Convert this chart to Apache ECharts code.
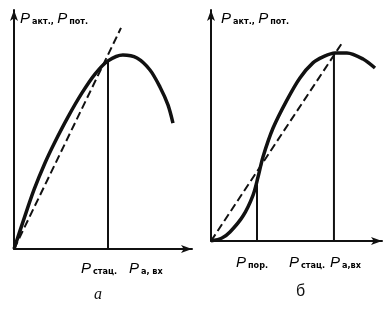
<!DOCTYPE html>
<html>
<head>
<meta charset="utf-8">
<script src="https://cdn.jsdelivr.net/npm/echarts@6/dist/echarts.min.js"></script>
<style>
  html, body { margin: 0; padding: 0; background: #fff; }
  #chart { width: 387px; height: 311px; }
</style>
</head>
<body>
<div id="chart"></div>
<script>
// panel а: active power vs input power, 0..100 units on both axes
const curveA = [
  [0, 0], [5.6, 12.6], [11.2, 24.7], [17.4, 36.0], [23.0, 44.8], [30.3, 55.2],
  [38.2, 65.3], [45.5, 73.2], [52.8, 78.7], [61.2, 81.2], [69.1, 79.9],
  [76.4, 74.9], [82.0, 67.8], [86.5, 60.3], [89.3, 52.7]
]
const dashA = [[0, 0], [60.1, 92.5]]
const statA = [[52.8, 0], [52.8, 79.1]]

// panel б
const curveB = [
  [0, 0], [6.4, 1.3], [11.1, 3.9], [18.7, 10.8], [24.6, 19.9], [27.5, 27.7],
  [30.4, 36.4], [36.3, 48.9], [44.4, 61.0], [52.0, 70.6], [59.6, 77.1],
  [65.5, 79.7], [72.5, 81.4], [79.5, 81.4], [88.9, 78.8], [95.9, 74.9]
]
const dashB = [[0, 0], [76.6, 85.7]]
const porB = [[26.9, 0], [26.9, 27.3]]
const statB = [[71.9, 0], [71.9, 81.4]]

const ink = '#111'

function axis() {
  return {
    type: 'value',
    min: 0,
    max: 100,
    axisLine: {
      show: true,
      lineStyle: { color: ink, width: 2 },
      symbol: ['none', 'arrow'],
      symbolSize: [6, 11]
    },
    axisTick: { show: false },
    axisLabel: { show: false },
    splitLine: { show: false }
  }
}

function line(data, idx, width, dashed) {
  return {
    type: 'line',
    xAxisIndex: idx,
    yAxisIndex: idx,
    data: data,
    symbol: 'none',
    smooth: data.length > 2 ? 0.3 : false,
    silent: true,
    lineStyle: { color: ink, width: width, type: dashed ? [8, 4] : 'solid' }
  }
}

const rich = {
  p: { fontFamily: 'Liberation Sans', fontStyle: 'italic', fontSize: 15, color: ink },
  s: { fontFamily: 'DejaVu Sans Condensed', fontWeight: 'bold', fontSize: 9, color: ink, padding: [6, 0, 0, 2] }
}

function label(x, y, text) {
  return { type: 'text', left: x, top: y, style: { text: text, rich: rich } }
}

const chart = echarts.init(document.getElementById('chart'))
chart.setOption({
  backgroundColor: '#fff',
  animation: false,
  grid: [
    { left: 14, top: 10, width: 178, height: 239 },
    { left: 211, top: 10, width: 171, height: 231 }
  ],
  xAxis: [Object.assign(axis(), { gridIndex: 0 }), Object.assign(axis(), { gridIndex: 1 })],
  yAxis: [Object.assign(axis(), { gridIndex: 0 }), Object.assign(axis(), { gridIndex: 1 })],
  series: [
    line(curveA, 0, 3.5),
    line(dashA, 0, 2, true),
    line(statA, 0, 2),
    line(curveB, 1, 3.5),
    line(dashB, 1, 2, true),
    line(porB, 1, 2),
    line(statB, 1, 2)
  ],
  graphic: [
    label(20, 11, '{p|P}{s|акт.,} {p|P}{s|пот.}'),
    label(221, 11, '{p|P}{s|акт.,} {p|P}{s|пот.}'),
    label(81, 261, '{p|P}{s|стац.}'),
    label(129, 261, '{p|P}{s|а, вх}'),
    label(236, 255, '{p|P}{s|пор.}'),
    label(289, 255, '{p|P}{s|стац.}'),
    label(330, 255, '{p|P}{s|а,вх}'),
    { type: 'text', left: 94, top: 287, style: { text: 'а', font: 'italic 16px "Liberation Serif"', fill: ink } },
    { type: 'text', left: 296, top: 284, style: { text: 'б', font: '16px "Liberation Sans"', fill: ink } }
  ]
})
</script>
</body>
</html>
